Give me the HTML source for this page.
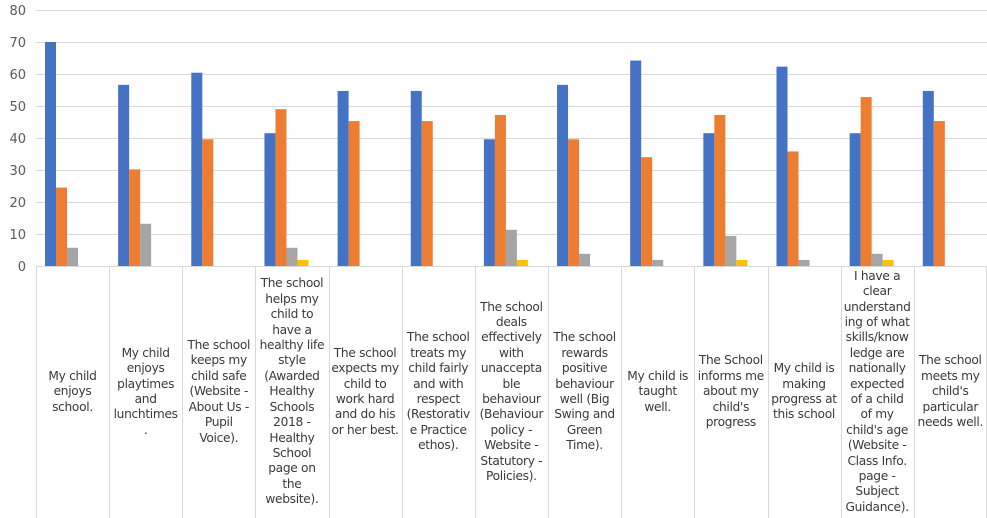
<!DOCTYPE html>
<html><head><meta charset="utf-8"><style>
body{margin:0;background:#fff;width:987px;height:518px;overflow:hidden;position:relative;font-family:"DejaVu Sans","Liberation Sans",sans-serif}
.c{position:absolute;top:266px;height:252px;width:73px;display:flex;align-items:center;justify-content:center;text-align:center;font-size:12.2px;line-height:15.4px;color:#3a3a3a;white-space:nowrap;letter-spacing:-0.3px}
</style></head><body>
<svg width="987" height="518" style="position:absolute;left:0;top:0">
<g stroke="#d9d9d9" stroke-width="1">
<line x1="36" x2="987" y1="10.5" y2="10.5"/><line x1="36" x2="987" y1="42.5" y2="42.5"/><line x1="36" x2="987" y1="74.5" y2="74.5"/><line x1="36" x2="987" y1="106.5" y2="106.5"/><line x1="36" x2="987" y1="138.5" y2="138.5"/><line x1="36" x2="987" y1="170.5" y2="170.5"/><line x1="36" x2="987" y1="202.5" y2="202.5"/><line x1="36" x2="987" y1="234.5" y2="234.5"/><line x1="36" x2="987" y1="266.5" y2="266.5"/>
</g>
<g font-family="DejaVu Sans, sans-serif" font-size="13" fill="#595959" text-anchor="end">
<text x="26" y="15">80</text><text x="26" y="47">70</text><text x="26" y="79">60</text><text x="26" y="111">50</text><text x="26" y="143">40</text><text x="26" y="175">30</text><text x="26" y="207">20</text><text x="26" y="239">10</text><text x="26" y="271">0</text>
</g>
<g id="bars"></g>
<g stroke="#d9d9d9" stroke-width="1" id="vl"></g>
</svg>
<div id="labels"></div>
<script>
var d=[[70,24.5,5.7,0],[56.6,30.2,13.2,0],[60.4,39.6,0,0],[41.5,49,5.7,1.9],[54.7,45.3,0,0],[54.7,45.3,0,0],[39.6,47.2,11.3,1.9],[56.6,39.6,3.8,0],[64.2,34,1.9,0],[41.5,47.2,9.4,1.9],[62.3,35.8,1.9,0],[41.5,52.8,3.8,1.9],[54.7,45.3,0,0]];
var col=["#4472c4","#ed7d31","#a5a5a5","#ffc000"];
var L=["My child<br>enjoys<br>school.","My child<br>enjoys<br>playtimes<br>and<br>lunchtimes<br>.","The school<br>keeps my<br>child safe<br>(Website -<br>About Us -<br>Pupil<br>Voice).","The school<br>helps my<br>child to<br>have a<br>healthy life<br>style<br>(Awarded<br>Healthy<br>Schools<br>2018 -<br>Healthy<br>School<br>page on<br>the<br>website).","The school<br>expects my<br>child to<br>work hard<br>and do his<br>or her best.","The school<br>treats my<br>child fairly<br>and with<br>respect<br>(Restorativ<br>e Practice<br>ethos).","The school<br>deals<br>effectively<br>with<br>unaccepta<br>ble<br>behaviour<br>(Behaviour<br>policy -<br>Website -<br>Statutory -<br>Policies).","The school<br>rewards<br>positive<br>behaviour<br>well (Big<br>Swing and<br>Green<br>Time).","My child is<br>taught<br>well.","The School<br>informs me<br>about my<br>child's<br>progress","My child is<br>making<br>progress at<br>this school","I have a<br>clear<br>understand<br>ing of what<br>skills/know<br>ledge are<br>nationally<br>expected<br>of a child<br>of my<br>child's age<br>(Website -<br>Class Info.<br>page -<br>Subject<br>Guidance).","The school<br>meets my<br>child's<br>particular<br>needs well."];
var s="",v="",h="";
for(var i=0;i<13;i++){var x0=36+i*73.15;
for(var j=0;j<4;j++){if(d[i][j]>0){var hh=d[i][j]*3.2;s+='<rect x="'+(x0+9+j*11)+'" y="'+(266-hh)+'" width="11" height="'+hh+'" fill="'+col[j]+'"/>';}}
v+='<line x1="'+(Math.round(x0)+.5)+'" x2="'+(Math.round(x0)+.5)+'" y1="266" y2="518"/>';
h+='<div class="c" style="left:'+x0+'px">'+L[i]+'</div>';}
v+='<line x1="986.5" x2="986.5" y1="266" y2="518"/>';
document.getElementById("bars").innerHTML=s;document.getElementById("vl").innerHTML=v;document.getElementById("labels").innerHTML=h;
</script>
</body></html>
